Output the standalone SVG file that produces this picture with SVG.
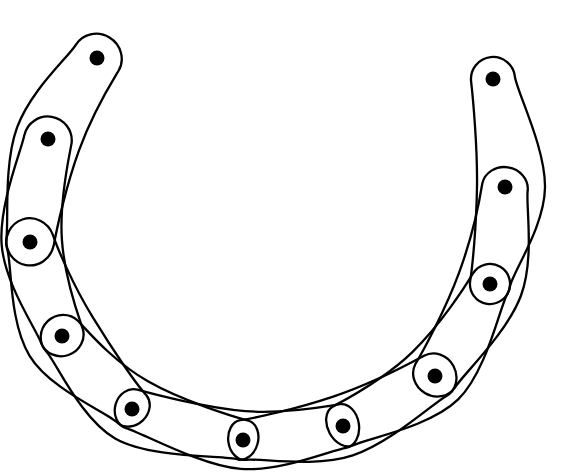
<svg xmlns="http://www.w3.org/2000/svg" width="572" height="474" viewBox="0 0 572 474">
<style>
.edge{fill:none;stroke:#000;stroke-width:2.3}
.dot{fill:#000}
</style>
<rect width="572" height="474" fill="#fff"/>
<g id="hyperedges">
<path class="edge" d="M75.6,45.1 C68.4,57.0 30.7,90.1 17.0,127.7 S8.8,224.1 6.4,237.9 A25,24 99.9 0 0 53.6,246.1 C56.1,232.3 65.3,187.9 79.0,150.3 S111.2,82.9 118.4,71.0 A24,25 121.2 0 0 75.6,45.1 Z"/>
<path class="edge" d="M24.4,134.9 C22.0,148.7 -1.2,204.1 1.6,244.0 S36.7,329.8 41.2,343.1 A21,22 71.2 0 0 82.8,328.9 C78.3,315.7 64.7,279.6 61.9,239.7 S69.2,156.9 71.6,143.1 A24,24 99.9 0 0 24.4,134.9 Z"/>
<path class="edge" d="M7.3,249.7 C11.8,263.0 8.8,321.7 29.6,355.8 S107.9,412.7 117.6,422.8 A17,20 46.2 0 0 146.4,395.2 C136.8,385.1 113.6,351.4 92.7,317.2 S57.2,247.5 52.7,234.3 A25,24 71.2 0 0 7.3,249.7 Z"/>
<path class="edge" d="M46.1,351.2 C55.8,361.3 80.4,418.6 115.1,438.5 S224.1,455.5 237.6,459.3 A15,20 15.6 0 0 248.4,420.7 C234.9,417.0 182.6,401.2 147.9,381.3 S87.6,330.9 77.9,320.8 A21,22 46.2 0 0 46.1,351.2 Z"/>
<path class="edge" d="M126.6,428.3 C140.1,432.0 200.8,465.7 240.7,468.9 S332.2,449.7 346.1,447.8 A16,22 -8 0 0 339.9,404.2 C326.1,406.2 285.2,414.3 245.3,411.1 S150.9,393.5 137.4,389.7 A17,20 15.6 0 0 126.6,428.3 Z"/>
<path class="edge" d="M245.8,459.8 C259.6,457.9 314.8,468.1 352.8,455.4 S433.7,402.9 446.0,396.2 A21,23 -28.5 0 0 424.0,355.8 C411.7,362.5 371.2,383.9 333.2,396.6 S254.1,418.3 240.2,420.2 A15,20 -8 0 0 245.8,459.8 Z"/>
<path class="edge" d="M353.5,445.3 C365.8,438.7 429.2,427.5 457.9,399.7 S500.0,306.3 507.2,294.3 A20,20 -59.1 0 0 472.8,273.7 C465.7,285.8 440.8,324.5 412.1,352.3 S344.8,400.0 332.5,406.7 A16,22 -28.5 0 0 353.5,445.3 Z"/>
<path class="edge" d="M454.7,387.8 C461.9,375.8 507.1,333.0 521.0,295.5 S525.6,204.4 527.7,190.5 A21,23 -81.2 0 0 482.3,183.5 C480.1,197.3 472.9,235.0 459.1,272.6 S422.5,352.2 415.3,364.2 A21,23 -59.1 0 0 454.7,387.8 Z"/>
<path class="edge" d="M509.8,287.1 C511.9,273.2 544.4,227.6 545.0,187.6 S516.4,90.5 514.9,76.6 A22,22 -96.3 0 0 471.1,81.4 C472.7,95.3 477.6,146.6 477.0,186.6 S472.4,267.1 470.2,280.9 A20,20 -81.2 0 0 509.8,287.1 Z"/>
</g>
<g id="vA"><circle class="dot" cx="97" cy="58" r="7.5"/></g>
<g id="vB"><circle class="dot" cx="48" cy="139" r="7.5"/></g>
<g id="vC"><circle class="dot" cx="30" cy="242" r="7.5"/></g>
<g id="vD"><circle class="dot" cx="62" cy="336" r="7.5"/></g>
<g id="vE"><circle class="dot" cx="132" cy="409" r="7.5"/></g>
<g id="vF"><circle class="dot" cx="243" cy="440" r="7.5"/></g>
<g id="vG"><circle class="dot" cx="343" cy="426" r="7.5"/></g>
<g id="vH"><circle class="dot" cx="435" cy="376" r="7.5"/></g>
<g id="vI"><circle class="dot" cx="490" cy="284" r="7.5"/></g>
<g id="vJ"><circle class="dot" cx="505" cy="187" r="7.5"/></g>
<g id="vK"><circle class="dot" cx="493" cy="79" r="7.5"/></g>
</svg>
